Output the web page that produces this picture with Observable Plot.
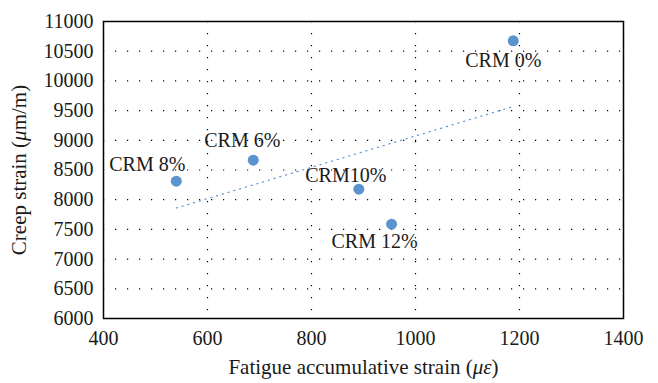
<!DOCTYPE html>
<html>
<head>
<meta charset="utf-8">
<script src="https://cdn.jsdelivr.net/npm/d3@7"></script>
<script src="https://cdn.jsdelivr.net/npm/@observablehq/plot@0.6"></script>
<style>
  html, body { margin: 0; padding: 0; background: #fff; }
</style>
</head>
<body>
<div id="chart"></div>
<script>
// Data
const labels = ["CRM 0%", "CRM 6%", "CRM 8%", "CRM10%", "CRM 12%"];
const fatigueStrain = [1188, 688, 540, 891, 954];
const creepStrain = [10675, 8665, 8311, 8177, 7588];
const xTicks = [400, 600, 800, 1000, 1200, 1400];
const yTicks = [6000, 6500, 7000, 7500, 8000, 8500, 9000, 9500, 10000, 10500, 11000];

const data = labels.map((label, i) => ({label, x: fatigueStrain[i], y: creepStrain[i]}));

// label placement offsets (px) relative to each point
const labelOffset = {
  "CRM 0%": [-10, 20],
  "CRM 6%": [-11, -20],
  "CRM 8%": [-29, -17],
  "CRM10%": [-13, -14],
  "CRM 12%": [-17, 17]
};

const blue = "#5b93cf";
const font = "Liberation Serif";

const textMarks = data.map(d => Plot.text([d], {
  x: "x", y: "y", text: "label",
  dx: labelOffset[d.label][0], dy: labelOffset[d.label][1],
  fontSize: 20, fill: "#1a1a1a"
}));

const chart = Plot.plot({
  width: 658,
  height: 383,
  marginLeft: 103,
  marginTop: 21,
  marginRight: 35,
  marginBottom: 65,
  style: {fontFamily: font, fontSize: "20px", color: "#1a1a1a", background: "#fff"},
  x: {domain: [400, 1400], ticks: xTicks, tickFormat: d3.format("d")},
  y: {domain: [6000, 11000], ticks: yTicks, tickFormat: d3.format("d")},
  marks: [
    Plot.gridX(xTicks, {stroke: "#000", strokeOpacity: 1, strokeWidth: 1.2, strokeDasharray: "1.2,10.8"}),
    Plot.gridY(yTicks, {stroke: "#000", strokeOpacity: 1, strokeWidth: 1.2, strokeDasharray: "1.2,10.8"}),
    Plot.axisX(xTicks, {tickSize: 0, tickPadding: 12, fontSize: 20, label: "Fatigue accumulative strain (με)", labelArrow: "none", labelAnchor: "center", labelOffset: 55, tickFormat: d3.format("d")}),
    Plot.axisY(yTicks, {tickSize: 0, tickPadding: 10, fontSize: 20, label: "Creep strain (μm/m)", labelArrow: "none", labelAnchor: "center", labelOffset: 92, tickFormat: d3.format("d")}),
    Plot.linearRegressionY(data, {x: "x", y: "y", ci: 0, stroke: blue, strokeWidth: 1.2, strokeDasharray: "1.2,4.8"}),
    Plot.frame({stroke: "#000", strokeWidth: 1.5}),
    Plot.dot(data, {x: "x", y: "y", r: 5.5, fill: blue, stroke: "none"}),
    ...textMarks
  ]
});

document.getElementById("chart").appendChild(chart);

// italicize the Greek symbols in the axis titles
const svg = d3.select(chart);
svg.selectAll("[aria-label='x-axis label'] text, [aria-label='y-axis label'] text").each(function() {
  const t = d3.select(this);
  t.style("font-size", "21px");
  const s = t.text().replace(/[\s↑↓←→]+$/, "").replace(/^[↑↓←→\s]+/, "");
  const m = s.match(/^(.*\()(.*)(\).*)$/);
  if (!m) { t.text(s); return; }
  t.text(null);
  const inner = m[2];
  t.append("tspan").text(m[1]);
  if (inner === "με") {
    t.append("tspan").attr("font-style", "italic").text("με");
  } else {
    t.append("tspan").attr("font-style", "italic").text("μ");
    t.append("tspan").text(inner.slice(1));
  }
  t.append("tspan").text(m[3]);
});
</script>
</body>
</html>
